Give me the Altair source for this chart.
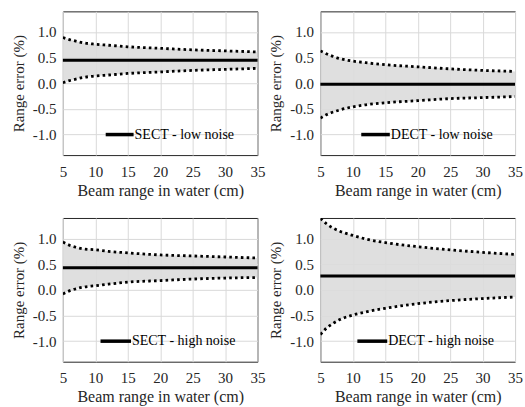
import altair as alt
import pandas as pd

# Beam range in water (cm)
x_cm = [5, 6, 7, 8, 10, 12, 15, 20, 25, 30, 35]

titles = ["SECT - low noise", "DECT - low noise", "SECT - high noise", "DECT - high noise"]
centers = [0.45, -0.02, 0.43, 0.27]

upper_sect_low = [0.89, 0.85, 0.82, 0.79, 0.76, 0.74, 0.71, 0.68, 0.65, 0.63, 0.61]
lower_sect_low = [0.01, 0.05, 0.08, 0.11, 0.14, 0.16, 0.19, 0.22, 0.25, 0.27, 0.29]

upper_dect_low = [0.63, 0.57, 0.52, 0.48, 0.43, 0.40, 0.36, 0.32, 0.28, 0.25, 0.23]
lower_dect_low = [-0.68, -0.61, -0.56, -0.52, -0.46, -0.42, -0.38, -0.34, -0.30, -0.28, -0.26]

upper_sect_high = [0.93, 0.87, 0.83, 0.80, 0.78, 0.75, 0.72, 0.68, 0.66, 0.64, 0.62]
lower_sect_high = [-0.08, -0.02, 0.02, 0.05, 0.08, 0.11, 0.15, 0.18, 0.21, 0.23, 0.24]

upper_dect_high = [1.39, 1.28, 1.20, 1.14, 1.06, 0.99, 0.92, 0.84, 0.78, 0.73, 0.69]
lower_dect_high = [-0.87, -0.74, -0.65, -0.58, -0.49, -0.43, -0.36, -0.27, -0.21, -0.17, -0.14]

uppers = [upper_sect_low, upper_dect_low, upper_sect_high, upper_dect_high]
lowers = [lower_sect_low, lower_dect_low, lower_sect_high, lower_dect_high]

# legend line extents (in x units) for each panel
legend_x1 = [11.6, 11.3, 10.8, 10.7]
legend_x2 = [15.9, 15.7, 15.5, 15.3]
legend_y = -1.0

x_ticks = [5, 10, 15, 20, 25, 30, 35]
y_ticks = [-1.0, -0.5, 0.0, 0.5, 1.0]

FONT = "'Liberation Serif', 'Times New Roman', 'DejaVu Serif', serif"
W, H = 195, 144

xscale = alt.Scale(domain=[5, 35], nice=False, zero=False)
yscale = alt.Scale(domain=[-1.4, 1.4], nice=False, zero=False)

common = dict(labelFont=FONT, titleFont=FONT, labelFontSize=15,
              labelColor="#262626", titleColor="#262626", titleFontWeight="normal",
              gridColor="#d9d9d9", gridWidth=1, domain=False, ticks=False,
              labelOverlap=False, grid=True)

xaxis = alt.Axis(values=x_ticks, title="Beam range in water (cm)", labelPadding=9,
                 titlePadding=3, titleFontSize=16, format="d", labelFlush=False, **common)
yaxis = alt.Axis(values=y_ticks, title="Range error (%)", labelPadding=7, titlePadding=6,
                 titleFontSize=15,
                 labelExpr="datum.value < 0 ? '-' + format(-datum.value, '.1f') : format(datum.value, '.1f')",
                 **common)


def X(f):
    return alt.X(f, scale=xscale, axis=xaxis)


def Y(f):
    return alt.Y(f, scale=yscale, axis=yaxis)


def panel(i):
    df = pd.DataFrame({"x": x_cm, "hi": uppers[i], "lo": lowers[i]})
    base = alt.Chart(df)
    area = base.mark_area(color="#dcdcdc", opacity=0.9, interpolate="monotone", clip=True).encode(
        x=X("x:Q"), y=Y("lo:Q"), y2="hi:Q")
    up = base.mark_line(color="black", strokeDash=[2.6, 3.2], strokeWidth=2.8,
                        interpolate="monotone", clip=True).encode(x=X("x:Q"), y=Y("hi:Q"))
    lo = base.mark_line(color="black", strokeDash=[2.6, 3.2], strokeWidth=2.8,
                        interpolate="monotone", clip=True).encode(x=X("x:Q"), y=Y("lo:Q"))
    cdf = pd.DataFrame({"x1": [x_cm[0]], "x2": [x_cm[-1]], "c": [centers[i]]})
    center = alt.Chart(cdf).mark_rule(color="black", strokeWidth=3).encode(
        x=X("x1:Q"), x2="x2:Q", y=Y("c:Q"))
    ldf = pd.DataFrame({"x1": [legend_x1[i]], "x2": [legend_x2[i]], "y": [legend_y],
                        "t": [titles[i]]})
    lline = alt.Chart(ldf).mark_rule(color="black", strokeWidth=3.5).encode(
        x=X("x1:Q"), x2="x2:Q", y=Y("y:Q"))
    ltext = alt.Chart(ldf).mark_text(align="left", baseline="middle", font=FONT, fontSize=14,
                                     color="black", dx=1).encode(
        x=X("x2:Q"), y=Y("y:Q"), text="t:N")
    return alt.layer(area, up, lo, center, lline, ltext).properties(width=W, height=H)


chart = alt.concat(*[panel(i) for i in range(4)], columns=2, spacing=63, bounds="flush").properties(
    padding={"left": 10, "top": 10, "right": 2, "bottom": 2},
    background="white",
).configure_view(stroke="#262626", strokeWidth=1).configure_axis(
    labelFont=FONT, titleFont=FONT, labelFontSize=15,
    titleFontWeight="normal", labelOverlap=False,
).configure_text(font=FONT)

chart.save("out.html", embed_options={"renderer": "svg", "actions": False})
